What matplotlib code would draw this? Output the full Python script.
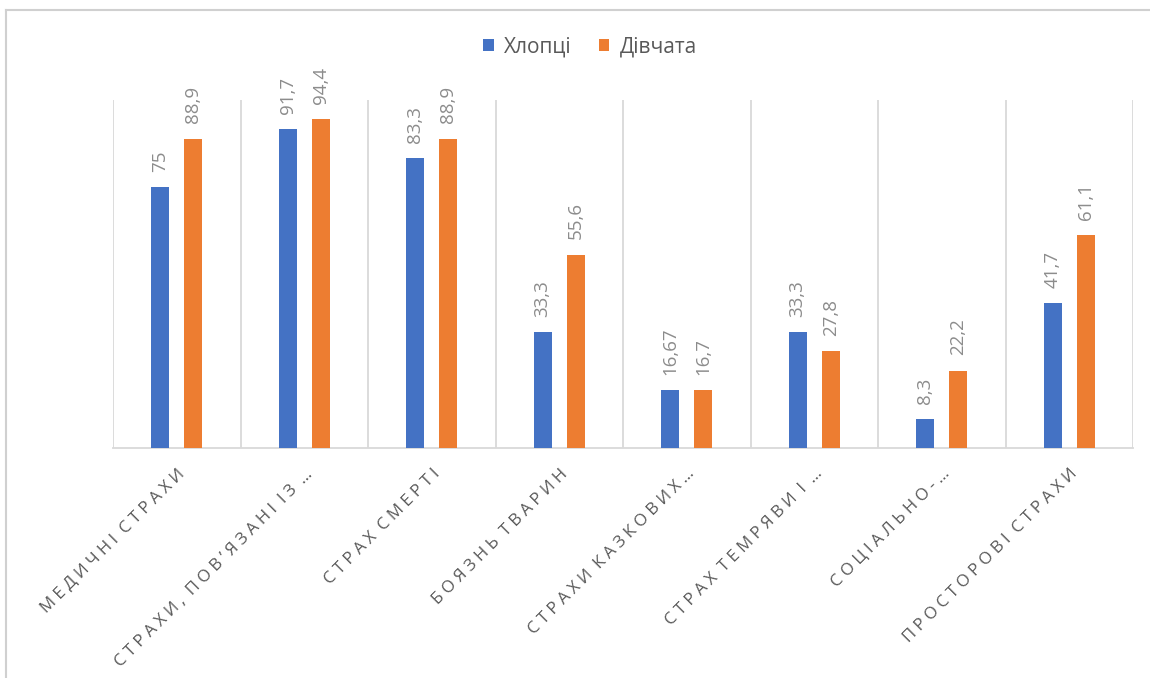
import numpy as np
import matplotlib
matplotlib.use("Agg")
import matplotlib.pyplot as plt
from matplotlib.lines import Line2D

plt.rcParams['font.family'] = ['Open Sans', 'DejaVu Sans']

categories = ["МЕДИЧНІ СТРАХИ", "СТРАХИ, ПОВ’ЯЗАНІ ІЗ …", "СТРАХ СМЕРТІ",
              "БОЯЗНЬ ТВАРИН", "СТРАХИ КАЗКОВИХ…", "СТРАХ ТЕМРЯВИ І …",
              "СОЦІАЛЬНО-…", "ПРОСТОРОВІ СТРАХИ"]
boys = [75, 91.7, 83.3, 33.3, 16.67, 33.3, 8.3, 41.7]
girls = [88.9, 94.4, 88.9, 55.6, 16.7, 27.8, 22.2, 61.1]
series_names = ["Хлопці", "Дівчата"]

BLUE = "#4472C4"
ORANGE = "#ED7D31"
GRID = "#D9D9D9"
TXT = "#595959"


def spaced(s):
    # imitate Excel's letter spacing on category labels
    return "\u2005 ".join("\u2005".join(word) for word in s.split(" "))


def fmt(v):
    return ("%g" % v).replace(".", ",")


fig = plt.figure(figsize=(11.5, 6.78), dpi=100)
ax = fig.add_axes([113 / 1150, 1 - 448 / 678, (1133 - 113) / 1150, (448 - 100) / 678])

x = np.arange(len(categories))
w = 0.14
off = 0.13
b1 = ax.bar(x - off, boys, w, color=BLUE, label=series_names[0], zorder=3)
b2 = ax.bar(x + off, girls, w, color=ORANGE, label=series_names[1], zorder=3)

for bars, vals in ((b1, boys), (b2, girls)):
    for r, v in zip(bars, vals):
        ax.annotate(fmt(v), (r.get_x() + r.get_width() / 2, r.get_height()),
                    xytext=(0, 11), textcoords="offset points", rotation=90,
                    ha="center", va="bottom", fontsize=13.5, color="#8C8C8C")

ax.set_xlim(-0.5, len(categories) - 0.5)
ax.set_ylim(0, 100)
for b in np.arange(-0.5, len(categories), 1.0):
    ax.axvline(b, color=GRID, lw=1.3, zorder=1)

for s in ["top", "right", "left"]:
    ax.spines[s].set_visible(False)
ax.spines["bottom"].set_color(GRID)
ax.spines["bottom"].set_linewidth(1.3)
ax.set_yticks([])
ax.set_xticks(x)
ax.set_xticklabels([spaced(c) for c in categories], rotation=45, ha="right",
                   rotation_mode="anchor", fontsize=12.2, color=TXT)
ax.tick_params(axis="x", length=0, pad=13)

fig.legend(handles=[b1, b2], loc="center", bbox_to_anchor=(590 / 1150, 1 - 47 / 678),
           ncol=2, frameon=False, fontsize=15, handlelength=0.5, handleheight=0.5,
           handletextpad=0.5, columnspacing=1.3, labelcolor=TXT)

# outer chart frame
fig.add_artist(Line2D([6 / 1150, 6 / 1150], [0, 1 - 10 / 678], color="#D0D0D0", lw=1.5))
fig.add_artist(Line2D([6 / 1150, 1], [1 - 10 / 678, 1 - 10 / 678], color="#D0D0D0", lw=1.5))

fig.savefig("out.png", dpi=100)
